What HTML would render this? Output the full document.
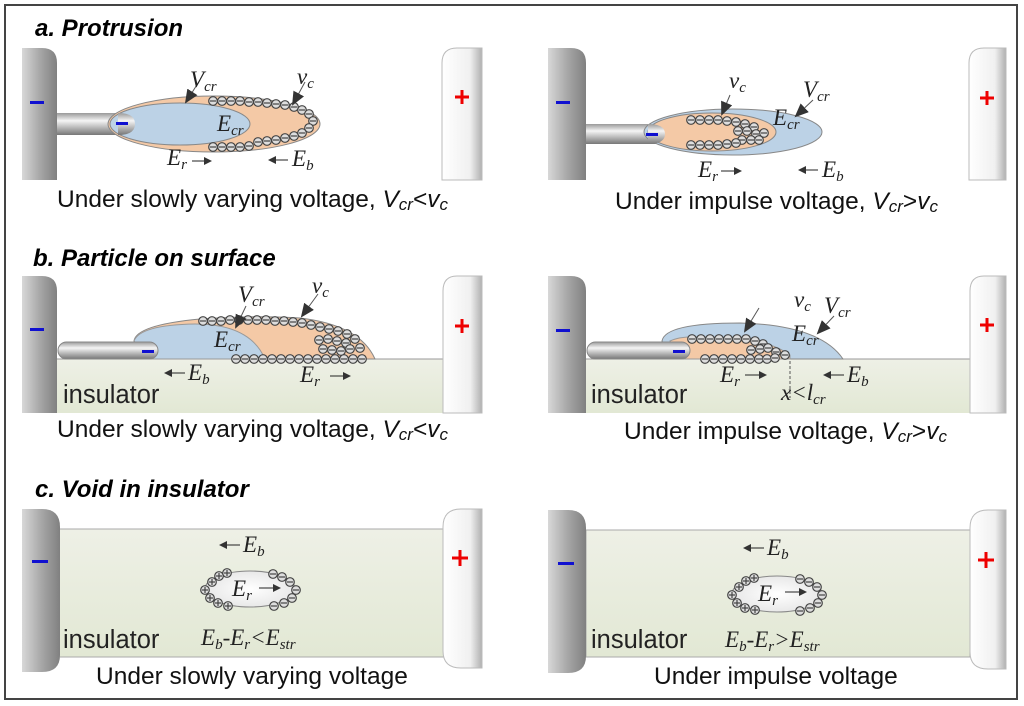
<!DOCTYPE html>
<html><head><meta charset="utf-8">
<style>
html,body{margin:0;padding:0;background:#fff;}
svg{display:block;}
.t{font-family:"Liberation Sans",sans-serif;font-weight:bold;font-style:italic;font-size:24px;fill:#000;}
.cap{font-family:"Liberation Sans",sans-serif;font-size:24.5px;fill:#111;}
.m{font-family:"Liberation Serif",serif;font-style:italic;font-size:23px;fill:#222;}
.s{font-size:15px;}
.ins{font-family:"Liberation Sans",sans-serif;font-size:25.5px;fill:#222;}
</style></head><body>
<svg width="1024" height="706" viewBox="0 0 1024 706" xmlns="http://www.w3.org/2000/svg">
<defs>
<linearGradient id="ge" x1="0" x2="1"><stop offset="0" stop-color="#d8d8d8"/><stop offset="0.5" stop-color="#a8a8a8"/><stop offset="1" stop-color="#808080"/></linearGradient>
<linearGradient id="gp" x1="0" x2="1"><stop offset="0" stop-color="#ffffff"/><stop offset="0.7" stop-color="#f0f0f0"/><stop offset="1" stop-color="#b0b0b0"/></linearGradient>
<linearGradient id="gn" x1="0" y1="0" x2="0" y2="1"><stop offset="0" stop-color="#999"/><stop offset="0.35" stop-color="#f5f5f5"/><stop offset="1" stop-color="#777"/></linearGradient>
<linearGradient id="gi" x1="0" y1="0" x2="0" y2="1"><stop offset="0" stop-color="#eef0e6"/><stop offset="1" stop-color="#e2e8d4"/></linearGradient>
<radialGradient id="gv"><stop offset="0" stop-color="#fff"/><stop offset="1" stop-color="#e8e8e8"/></radialGradient>
<g id="cm"><circle r="4.3" fill="#ddd" stroke="#444" stroke-width="1.2"/><line x1="-3" y1="0" x2="3" y2="0" stroke="#444" stroke-width="1.2"/></g>
<g id="cp"><circle r="4.3" fill="#ddd" stroke="#444" stroke-width="1.2"/><line x1="-3" y1="0" x2="3" y2="0" stroke="#444" stroke-width="1.2"/><line x1="0" y1="-3" x2="0" y2="3" stroke="#444" stroke-width="1.2"/></g>
<marker id="ah" markerWidth="8" markerHeight="8" refX="6" refY="4" orient="auto" markerUnits="userSpaceOnUse"><path d="M0,0 L8,4 L0,8 Z" fill="#333"/></marker>
<marker id="aw" markerWidth="14" markerHeight="12" refX="12" refY="6" orient="auto" markerUnits="userSpaceOnUse"><path d="M0,0 L14,6 L0,12 Z" fill="#333"/></marker>
</defs>
<rect x="5" y="5" width="1012" height="694" fill="#fff" stroke="#444" stroke-width="2"/>

<text class="t" x="35" y="36">a. Protrusion</text>
<text class="t" x="33" y="266">b. Particle on surface</text>
<text class="t" x="35" y="497">c. Void in insulator</text>

<!-- ===== Panel a left ===== -->
<path d="M22,48 H42 Q57,48 57,63 V180 H22 Z" fill="url(#ge)"/>
<path d="M482,48 H457 Q442,48 442,63 V180 H482 Z" fill="url(#gp)" stroke="#bbb"/>
<rect x="30" y="101" width="14" height="3" fill="#1010d0"/>
<path d="M455,97 h14 M462,90 v14" stroke="#e00" stroke-width="3"/>
<rect x="57" y="113" width="75" height="22" fill="url(#gn)"/>
<ellipse cx="214" cy="124" rx="106" ry="28" fill="#f4c9a6" stroke="#888"/>
<ellipse cx="180" cy="124" rx="70" ry="21" fill="#bcd2e6" stroke="#888"/>
<path d="M118,113 Q135,113 135,124 Q135,135 118,135 Z" fill="url(#gn)"/>
<rect x="116" y="122" width="12" height="3" fill="#1010d0"/>
<g>
<use href="#cm" x="213" y="101"/><use href="#cm" x="222" y="101"/><use href="#cm" x="231" y="101"/><use href="#cm" x="240" y="101"/><use href="#cm" x="249" y="102"/><use href="#cm" x="258" y="102"/><use href="#cm" x="267" y="103"/><use href="#cm" x="276" y="104"/><use href="#cm" x="285" y="105"/><use href="#cm" x="294" y="107"/><use href="#cm" x="302" y="110"/><use href="#cm" x="309" y="114"/><use href="#cm" x="313" y="121"/><use href="#cm" x="309" y="128"/><use href="#cm" x="302" y="133"/><use href="#cm" x="294" y="136"/><use href="#cm" x="285" y="138"/><use href="#cm" x="276" y="140"/><use href="#cm" x="267" y="141"/><use href="#cm" x="258" y="142"/><use href="#cm" x="249" y="146"/><use href="#cm" x="240" y="147"/><use href="#cm" x="231" y="147"/><use href="#cm" x="222" y="147"/><use href="#cm" x="213" y="147"/>
</g>
<line x1="200" y1="80" x2="186" y2="102" stroke="#555" marker-end="url(#aw)"/>
<line x1="305" y1="82" x2="293" y2="104" stroke="#555" marker-end="url(#aw)"/>
<text class="m" x="190" y="87">V<tspan class="s" dy="4">cr</tspan></text>
<text class="m" x="297" y="84">v<tspan class="s" dy="4">c</tspan></text>
<text class="m" x="217" y="131">E<tspan class="s" dy="4">cr</tspan></text>
<text class="m" x="167" y="165">E<tspan class="s" dy="4">r</tspan></text>
<line x1="192" y1="161" x2="210" y2="161" stroke="#222" marker-end="url(#ah)"/>
<line x1="288" y1="160" x2="270" y2="160" stroke="#222" marker-end="url(#ah)"/>
<text class="m" x="292" y="166">E<tspan class="s" dy="4">b</tspan></text>
<text class="cap" x="57" y="207">Under slowly varying voltage, <tspan font-style="italic">V</tspan><tspan font-style="italic" font-size="17" dy="3">cr</tspan><tspan dy="-3">&lt;</tspan><tspan font-style="italic">v</tspan><tspan font-style="italic" font-size="17" dy="3">c</tspan></text>

<!-- ===== Panel a right ===== -->
<path d="M548,48 H571 Q586,48 586,63 V180 H548 Z" fill="url(#ge)"/>
<path d="M1006,48 H984 Q969,48 969,63 V180 H1006 Z" fill="url(#gp)" stroke="#bbb"/>
<rect x="556" y="101" width="14" height="3" fill="#1010d0"/>
<path d="M980,98 h14 M987,91 v14" stroke="#e00" stroke-width="3"/>
<rect x="586" y="124" width="73" height="20" fill="url(#gn)"/>
<ellipse cx="733" cy="132" rx="89" ry="23" fill="#bcd2e6" stroke="#888"/>
<ellipse cx="712" cy="132" rx="64" ry="19" fill="#f4c9a6" stroke="#888"/>
<path d="M648,124 Q665,124 665,134 Q665,144 648,144 Z" fill="url(#gn)"/>
<rect x="646" y="133" width="12" height="3" fill="#1010d0"/>
<g>
<use href="#cm" x="691" y="120"/><use href="#cm" x="700" y="120"/><use href="#cm" x="709" y="120"/><use href="#cm" x="718" y="120"/><use href="#cm" x="727" y="121"/><use href="#cm" x="736" y="122"/><use href="#cm" x="745" y="124"/><use href="#cm" x="754" y="127"/>
<use href="#cm" x="738" y="131"/><use href="#cm" x="747" y="131"/><use href="#cm" x="756" y="134"/><use href="#cm" x="764" y="133"/>
<use href="#cm" x="742" y="140"/><use href="#cm" x="751" y="140"/><use href="#cm" x="759" y="140"/>
<use href="#cm" x="691" y="145"/><use href="#cm" x="700" y="145"/><use href="#cm" x="709" y="145"/><use href="#cm" x="718" y="145"/><use href="#cm" x="727" y="144"/><use href="#cm" x="736" y="143"/>
</g>
<line x1="730" y1="95" x2="722" y2="114" stroke="#555" marker-end="url(#aw)"/>
<line x1="813" y1="100" x2="796" y2="116" stroke="#555" marker-end="url(#aw)"/>
<text class="m" x="729" y="88">v<tspan class="s" dy="4">c</tspan></text>
<text class="m" x="803" y="97">V<tspan class="s" dy="4">cr</tspan></text>
<text class="m" x="773" y="125">E<tspan class="s" dy="4">cr</tspan></text>
<text class="m" x="698" y="177">E<tspan class="s" dy="4">r</tspan></text>
<line x1="721" y1="171" x2="740" y2="171" stroke="#222" marker-end="url(#ah)"/>
<line x1="818" y1="170" x2="800" y2="170" stroke="#222" marker-end="url(#ah)"/>
<text class="m" x="822" y="177">E<tspan class="s" dy="4">b</tspan></text>
<text class="cap" x="615" y="209">Under impulse voltage, <tspan font-style="italic">V</tspan><tspan font-style="italic" font-size="17" dy="3">cr</tspan><tspan dy="-3">&gt;</tspan><tspan font-style="italic">v</tspan><tspan font-style="italic" font-size="17" dy="3">c</tspan></text>

<!-- ===== Panel b left ===== -->
<rect x="57" y="359" width="386" height="54" fill="url(#gi)"/>
<line x1="57" y1="359" x2="443" y2="359" stroke="#999"/>
<path d="M22,276 H42 Q57,276 57,291 V413 H22 Z" fill="url(#ge)"/>
<path d="M482,276 H457 Q443,276 443,291 V413 H482 Z" fill="url(#gp)" stroke="#bbb"/>
<rect x="30" y="328" width="14" height="3" fill="#1010d0"/>
<path d="M455,326 h14 M462,319 v14" stroke="#e00" stroke-width="3"/>
<path d="M134,341 Q136,325 200,319 Q260,315 300,318 Q360,325 375,359 H150 Z" fill="#f4c9a6" stroke="#888"/>
<path d="M134,341 Q140,325 195,324 Q250,324 265,359 H150 Z" fill="#bcd2e6" stroke="#999"/>
<rect x="58" y="342" width="100" height="17" rx="8.5" fill="url(#gn)" stroke="#888"/>
<rect x="142" y="350" width="12" height="3" fill="#1010d0"/>
<g>
<use href="#cm" x="203" y="321"/><use href="#cm" x="212" y="321"/><use href="#cm" x="221" y="321"/><use href="#cm" x="230" y="320"/><use href="#cm" x="239" y="320"/><use href="#cm" x="248" y="320"/><use href="#cm" x="257" y="320"/><use href="#cm" x="266" y="320"/><use href="#cm" x="275" y="321"/><use href="#cm" x="284" y="321"/><use href="#cm" x="293" y="322"/><use href="#cm" x="302" y="323"/><use href="#cm" x="311" y="325"/><use href="#cm" x="320" y="327"/><use href="#cm" x="329" y="329"/><use href="#cm" x="338" y="331"/><use href="#cm" x="347" y="334"/><use href="#cm" x="355" y="339"/>
<use href="#cm" x="319" y="340"/><use href="#cm" x="328" y="339"/><use href="#cm" x="337" y="341"/><use href="#cm" x="346" y="343"/><use href="#cm" x="323" y="349"/><use href="#cm" x="332" y="350"/><use href="#cm" x="341" y="351"/><use href="#cm" x="350" y="349"/><use href="#cm" x="360" y="348"/>
<use href="#cm" x="236" y="359"/><use href="#cm" x="245" y="359"/><use href="#cm" x="254" y="359"/><use href="#cm" x="263" y="359"/><use href="#cm" x="272" y="359"/><use href="#cm" x="281" y="359"/><use href="#cm" x="290" y="359"/><use href="#cm" x="299" y="359"/><use href="#cm" x="308" y="359"/><use href="#cm" x="317" y="359"/><use href="#cm" x="326" y="359"/><use href="#cm" x="335" y="359"/><use href="#cm" x="344" y="359"/><use href="#cm" x="353" y="359"/><use href="#cm" x="362" y="359"/>
</g>
<line x1="246" y1="306" x2="236" y2="327" stroke="#555" marker-end="url(#aw)"/>
<line x1="318" y1="294" x2="302" y2="316" stroke="#555" marker-end="url(#aw)"/>
<text class="m" x="238" y="302">V<tspan class="s" dy="4">cr</tspan></text>
<text class="m" x="312" y="293">v<tspan class="s" dy="4">c</tspan></text>
<text class="m" x="214" y="347">E<tspan class="s" dy="4">cr</tspan></text>
<line x1="185" y1="373" x2="166" y2="373" stroke="#222" marker-end="url(#ah)"/>
<text class="m" x="188" y="380">E<tspan class="s" dy="4">b</tspan></text>
<text class="m" x="300" y="382">E<tspan class="s" dy="4">r</tspan></text>
<line x1="330" y1="376" x2="349" y2="376" stroke="#222" marker-end="url(#ah)"/>
<text class="ins" x="63" y="403">insulator</text>
<text class="cap" x="57" y="437">Under slowly varying voltage, <tspan font-style="italic">V</tspan><tspan font-style="italic" font-size="17" dy="3">cr</tspan><tspan dy="-3">&lt;</tspan><tspan font-style="italic">v</tspan><tspan font-style="italic" font-size="17" dy="3">c</tspan></text>

<!-- ===== Panel b right ===== -->
<rect x="586" y="359" width="384" height="54" fill="url(#gi)"/>
<line x1="586" y1="359" x2="970" y2="359" stroke="#999"/>
<path d="M548,276 H571 Q586,276 586,291 V413 H548 Z" fill="url(#ge)"/>
<path d="M1006,276 H984 Q970,276 970,291 V413 H1006 Z" fill="url(#gp)" stroke="#bbb"/>
<rect x="556" y="329" width="14" height="3" fill="#1010d0"/>
<path d="M980,325 h14 M987,318 v14" stroke="#e00" stroke-width="3"/>
<path d="M662,341 Q665,323 740,323 Q820,325 843,359 H670 Z" fill="#bcd2e6" stroke="#888"/>
<path d="M670,341 Q680,336 700,337 Q765,336 790,355 V359 H680 Z" fill="#f4c9a6" stroke="#999"/>
<rect x="587" y="342" width="103" height="17" rx="8.5" fill="url(#gn)" stroke="#888"/>
<rect x="673" y="350" width="12" height="3" fill="#1010d0"/>
<g>
<use href="#cm" x="692" y="339"/><use href="#cm" x="701" y="339"/><use href="#cm" x="710" y="339"/><use href="#cm" x="719" y="339"/><use href="#cm" x="728" y="339"/><use href="#cm" x="737" y="339"/><use href="#cm" x="746" y="339"/><use href="#cm" x="755" y="341"/><use href="#cm" x="763" y="344"/>
<use href="#cm" x="751" y="350"/><use href="#cm" x="760" y="349"/><use href="#cm" x="768" y="348"/><use href="#cm" x="776" y="352"/><use href="#cm" x="785" y="355"/>
<use href="#cm" x="705" y="359"/><use href="#cm" x="714" y="359"/><use href="#cm" x="723" y="359"/><use href="#cm" x="732" y="359"/><use href="#cm" x="741" y="359"/><use href="#cm" x="750" y="359"/><use href="#cm" x="759" y="359"/><use href="#cm" x="767" y="359"/><use href="#cm" x="775" y="358"/>
</g>
<line x1="759" y1="308" x2="745" y2="331" stroke="#555" marker-end="url(#aw)"/>
<line x1="834" y1="316" x2="818" y2="333" stroke="#555" marker-end="url(#aw)"/>
<text class="m" x="794" y="307">v<tspan class="s" dy="4">c</tspan></text>
<text class="m" x="824" y="313">V<tspan class="s" dy="4">cr</tspan></text>
<text class="m" x="792" y="341">E<tspan class="s" dy="4">cr</tspan></text>
<line x1="790" y1="361" x2="790" y2="398" stroke="#555" stroke-dasharray="3,2"/>
<text class="m" x="720" y="382">E<tspan class="s" dy="4">r</tspan></text>
<line x1="745" y1="375" x2="765" y2="375" stroke="#222" marker-end="url(#ah)"/>
<line x1="844" y1="375" x2="825" y2="375" stroke="#222" marker-end="url(#ah)"/>
<text class="m" x="847" y="382">E<tspan class="s" dy="4">b</tspan></text>
<text class="m" x="781" y="400">x&lt;l<tspan class="s" dy="4">cr</tspan></text>
<text class="ins" x="591" y="403">insulator</text>
<text class="cap" x="624" y="439">Under impulse voltage, <tspan font-style="italic">V</tspan><tspan font-style="italic" font-size="17" dy="3">cr</tspan><tspan dy="-3">&gt;</tspan><tspan font-style="italic">v</tspan><tspan font-style="italic" font-size="17" dy="3">c</tspan></text>

<!-- ===== Panel c left ===== -->
<rect x="58" y="529" width="386" height="128" fill="url(#gi)" stroke="#aaa"/>
<path d="M22,509 H42 Q60,509 60,527 V655 Q60,672 42,672 H22 Z" fill="url(#ge)"/>
<path d="M482,509 H461 Q443,509 443,527 V651 Q443,668 461,668 H482 Z" fill="url(#gp)" stroke="#bbb"/>
<rect x="32" y="560" width="16" height="3" fill="#1010d0"/>
<path d="M452,558 h16 M460,550 v16" stroke="#e00" stroke-width="3"/>
<ellipse cx="250" cy="589" rx="45" ry="18" fill="url(#gv)" stroke="#888"/>
<g>
<use href="#cp" x="219" y="576"/><use href="#cp" x="227" y="573"/><use href="#cp" x="212" y="582"/><use href="#cp" x="205" y="590"/><use href="#cp" x="210" y="598"/><use href="#cp" x="218" y="603"/><use href="#cp" x="228" y="606"/>
<use href="#cm" x="273" y="574"/><use href="#cm" x="282" y="577"/><use href="#cm" x="290" y="582"/><use href="#cm" x="296" y="590"/><use href="#cm" x="292" y="598"/><use href="#cm" x="284" y="603"/><use href="#cm" x="274" y="606"/>
</g>
<text class="m" x="232" y="596">E<tspan class="s" dy="4">r</tspan></text>
<line x1="259" y1="588" x2="279" y2="588" stroke="#222" marker-end="url(#ah)"/>
<line x1="240" y1="545" x2="221" y2="545" stroke="#222" marker-end="url(#ah)"/>
<text class="m" x="243" y="552">E<tspan class="s" dy="4">b</tspan></text>
<text class="ins" x="63" y="648">insulator</text>
<text class="m" x="201" y="645">E<tspan class="s" dy="4">b</tspan><tspan dy="-4">-E</tspan><tspan class="s" dy="4">r</tspan><tspan dy="-4">&lt;E</tspan><tspan class="s" dy="4">str</tspan></text>
<text class="cap" x="96" y="684">Under slowly varying voltage</text>

<!-- ===== Panel c right ===== -->
<rect x="586" y="530" width="384" height="127" fill="url(#gi)" stroke="#aaa"/>
<path d="M548,510 H568 Q586,510 586,528 V656 Q586,673 568,673 H548 Z" fill="url(#ge)"/>
<path d="M1006,510 H988 Q970,510 970,528 V652 Q970,669 988,669 H1006 Z" fill="url(#gp)" stroke="#bbb"/>
<rect x="558" y="562" width="16" height="3" fill="#1010d0"/>
<path d="M978,560 h16 M986,552 v16" stroke="#e00" stroke-width="3"/>
<ellipse cx="777" cy="594" rx="45" ry="18" fill="url(#gv)" stroke="#888"/>
<g>
<use href="#cp" x="746" y="581"/><use href="#cp" x="754" y="578"/><use href="#cp" x="739" y="587"/><use href="#cp" x="732" y="595"/><use href="#cp" x="737" y="603"/><use href="#cp" x="745" y="608"/><use href="#cp" x="755" y="610"/>
<use href="#cm" x="800" y="579"/><use href="#cm" x="809" y="582"/><use href="#cm" x="817" y="587"/><use href="#cm" x="822" y="595"/><use href="#cm" x="818" y="603"/><use href="#cm" x="810" y="608"/><use href="#cm" x="800" y="611"/>
</g>
<text class="m" x="758" y="601">E<tspan class="s" dy="4">r</tspan></text>
<line x1="785" y1="592" x2="805" y2="592" stroke="#222" marker-end="url(#ah)"/>
<line x1="764" y1="548" x2="745" y2="548" stroke="#222" marker-end="url(#ah)"/>
<text class="m" x="767" y="555">E<tspan class="s" dy="4">b</tspan></text>
<text class="ins" x="591" y="648">insulator</text>
<text class="m" x="725" y="647">E<tspan class="s" dy="4">b</tspan><tspan dy="-4">-E</tspan><tspan class="s" dy="4">r</tspan><tspan dy="-4">&gt;E</tspan><tspan class="s" dy="4">str</tspan></text>
<text class="cap" x="654" y="684">Under impulse voltage</text>
</svg>
</body></html>
